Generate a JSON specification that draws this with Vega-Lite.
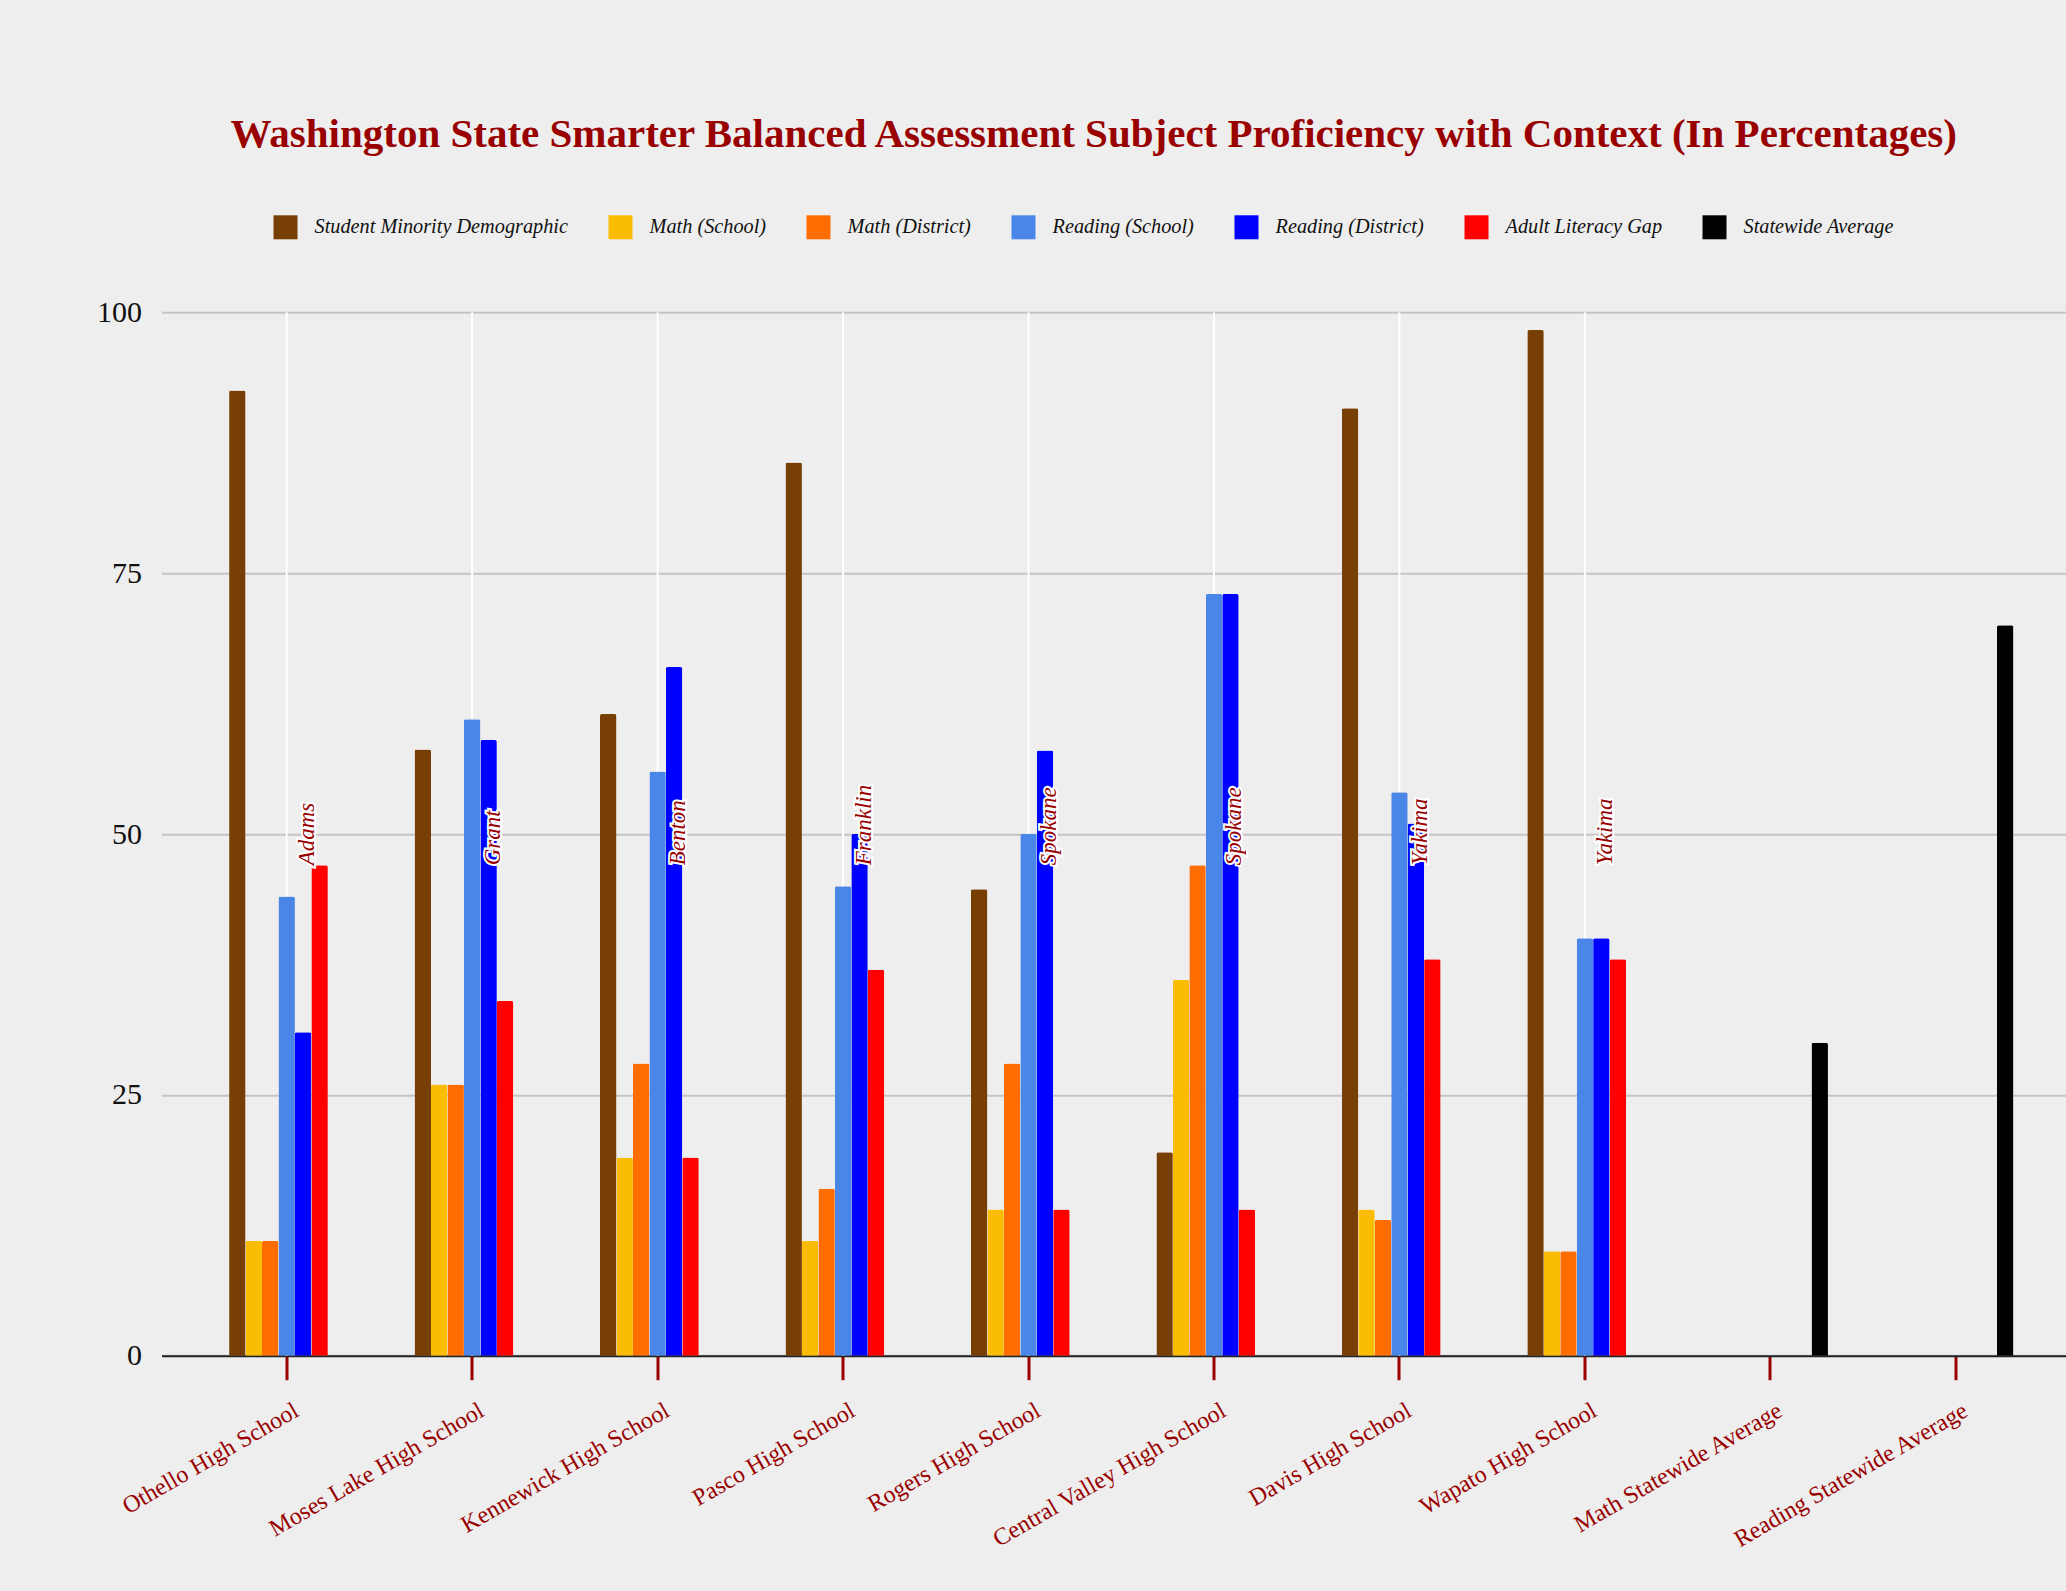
{
  "$schema": "https://vega.github.io/schema/vega-lite/v6.json",
  "autosize": {"type": "none"},
  "width": 1904.5,
  "height": 1043.4,
  "padding": {"left": 161.5, "top": 312.3, "right": 0, "bottom": 235.3},
  "background": "#eeeeee",
  "title": {
    "text": "Washington State Smarter Balanced Assessment Subject Proficiency with Context (In Percentages)",
    "font": "Liberation Serif",
    "fontSize": 41,
    "fontWeight": "bold",
    "color": "#990000",
    "anchor": "middle",
    "frame": "group",
    "dx": -20,
    "offset": 59
  },
  "datasets": {
    "bars": [
      {"school": "Othello High School", "series": "Student Minority Demographic", "value": 92.5},
      {"school": "Othello High School", "series": "Math (School)", "value": 11},
      {"school": "Othello High School", "series": "Math (District)", "value": 11},
      {"school": "Othello High School", "series": "Reading (School)", "value": 44},
      {"school": "Othello High School", "series": "Reading (District)", "value": 31},
      {"school": "Othello High School", "series": "Adult Literacy Gap", "value": 47},
      {"school": "Moses Lake High School", "series": "Student Minority Demographic", "value": 58.1},
      {"school": "Moses Lake High School", "series": "Math (School)", "value": 26},
      {"school": "Moses Lake High School", "series": "Math (District)", "value": 26},
      {"school": "Moses Lake High School", "series": "Reading (School)", "value": 61},
      {"school": "Moses Lake High School", "series": "Reading (District)", "value": 59},
      {"school": "Moses Lake High School", "series": "Adult Literacy Gap", "value": 34},
      {"school": "Kennewick High School", "series": "Student Minority Demographic", "value": 61.5},
      {"school": "Kennewick High School", "series": "Math (School)", "value": 19},
      {"school": "Kennewick High School", "series": "Math (District)", "value": 28},
      {"school": "Kennewick High School", "series": "Reading (School)", "value": 56},
      {"school": "Kennewick High School", "series": "Reading (District)", "value": 66},
      {"school": "Kennewick High School", "series": "Adult Literacy Gap", "value": 19},
      {"school": "Pasco High School", "series": "Student Minority Demographic", "value": 85.6},
      {"school": "Pasco High School", "series": "Math (School)", "value": 11},
      {"school": "Pasco High School", "series": "Math (District)", "value": 16},
      {"school": "Pasco High School", "series": "Reading (School)", "value": 45},
      {"school": "Pasco High School", "series": "Reading (District)", "value": 50},
      {"school": "Pasco High School", "series": "Adult Literacy Gap", "value": 37},
      {"school": "Rogers High School", "series": "Student Minority Demographic", "value": 44.7},
      {"school": "Rogers High School", "series": "Math (School)", "value": 14},
      {"school": "Rogers High School", "series": "Math (District)", "value": 28},
      {"school": "Rogers High School", "series": "Reading (School)", "value": 50},
      {"school": "Rogers High School", "series": "Reading (District)", "value": 58},
      {"school": "Rogers High School", "series": "Adult Literacy Gap", "value": 14},
      {"school": "Central Valley High School", "series": "Student Minority Demographic", "value": 19.5},
      {"school": "Central Valley High School", "series": "Math (School)", "value": 36},
      {"school": "Central Valley High School", "series": "Math (District)", "value": 47},
      {"school": "Central Valley High School", "series": "Reading (School)", "value": 73},
      {"school": "Central Valley High School", "series": "Reading (District)", "value": 73},
      {"school": "Central Valley High School", "series": "Adult Literacy Gap", "value": 14},
      {"school": "Davis High School", "series": "Student Minority Demographic", "value": 90.8},
      {"school": "Davis High School", "series": "Math (School)", "value": 14},
      {"school": "Davis High School", "series": "Math (District)", "value": 13},
      {"school": "Davis High School", "series": "Reading (School)", "value": 54},
      {"school": "Davis High School", "series": "Reading (District)", "value": 51},
      {"school": "Davis High School", "series": "Adult Literacy Gap", "value": 38},
      {"school": "Wapato High School", "series": "Student Minority Demographic", "value": 98.3},
      {"school": "Wapato High School", "series": "Math (School)", "value": 10},
      {"school": "Wapato High School", "series": "Math (District)", "value": 10},
      {"school": "Wapato High School", "series": "Reading (School)", "value": 40},
      {"school": "Wapato High School", "series": "Reading (District)", "value": 40},
      {"school": "Wapato High School", "series": "Adult Literacy Gap", "value": 38},
      {"school": "Math Statewide Average", "series": "Statewide Average", "value": 30},
      {"school": "Reading Statewide Average", "series": "Statewide Average", "value": 70}
    ],
    "notes": [
      {"school": "Othello High School", "county": "Adams", "series": "Reading (District)"},
      {"school": "Moses Lake High School", "county": "Grant", "series": "Reading (District)"},
      {"school": "Kennewick High School", "county": "Benton", "series": "Reading (District)"},
      {"school": "Pasco High School", "county": "Franklin", "series": "Reading (District)"},
      {"school": "Rogers High School", "county": "Spokane", "series": "Reading (District)"},
      {"school": "Central Valley High School", "county": "Spokane", "series": "Reading (District)"},
      {"school": "Davis High School", "county": "Yakima", "series": "Reading (District)"},
      {"school": "Wapato High School", "county": "Yakima", "series": "Reading (District)"}
    ]
  },
  "encoding": {
    "x": {
      "field": "school",
      "type": "nominal",
      "sort": null,
      "scale": {
        "domain": ["Othello High School", "Moses Lake High School", "Kennewick High School", "Pasco High School", "Rogers High School", "Central Valley High School", "Davis High School", "Wapato High School", "Math Statewide Average", "Reading Statewide Average"],
        "paddingInner": 0.3788,
        "paddingOuter": 0.324,
        "align": 0.5624
      },
      "axis": {
        "title": null,
        "labelAngle": -30,
        "labelAlign": "right",
        "labelBaseline": "middle",
        "labelFont": "Liberation Serif",
        "labelFontSize": 24,
        "labelColor": "#990000",
        "labelOffset": 10,
        "labelPadding": 29,
        "labelLimit": 0,
        "tickColor": "#990000",
        "tickSize": 24,
        "tickWidth": 3,
        "domainColor": "#222222",
        "domainWidth": 2,
        "grid": false,
        "labelOverlap": false
      }
    }
  },
  "layer": [
    {
      "data": {"name": "notes"},
      "mark": {"type": "rule", "color": "#ffffff", "strokeWidth": 2},
      "encoding": {
        "y": {"datum": 0, "type": "quantitative"},
        "y2": {"datum": 100}
      }
    },
    {
      "data": {"name": "bars"},
      "mark": {"type": "bar", "cornerRadiusTopLeft": 2, "cornerRadiusTopRight": 2},
      "encoding": {
        "xOffset": {
          "field": "series",
          "type": "nominal",
          "sort": null,
          "scale": {
            "domain": ["Student Minority Demographic", "Math (School)", "Math (District)", "Reading (School)", "Reading (District)", "Adult Literacy Gap", "Statewide Average"],
            "paddingInner": 0,
            "paddingOuter": 0
          }
        },
        "y": {
          "field": "value",
          "type": "quantitative",
          "scale": {"domain": [0, 100], "nice": false},
          "axis": {
            "title": null,
            "values": [0, 25, 50, 75, 100],
            "grid": true,
            "gridColor": "#c4c4c4",
            "gridWidth": 2,
            "domain": false,
            "ticks": false,
            "labelFont": "Liberation Serif",
            "labelFontSize": 30,
            "labelColor": "#111111",
            "labelPadding": 20
          }
        },
        "color": {
          "field": "series",
          "type": "nominal",
          "sort": null,
          "scale": {
            "domain": ["Student Minority Demographic", "Math (School)", "Math (District)", "Reading (School)", "Reading (District)", "Adult Literacy Gap", "Statewide Average"],
            "range": ["#783f04", "#fbbc04", "#ff6d01", "#4a86e8", "#0000ff", "#ff0000", "#000000"]
          },
          "legend": {
            "title": null,
            "orient": "none",
            "direction": "horizontal",
            "legendX": 112,
            "legendY": -97,
            "symbolType": "square",
            "symbolSize": 576,
            "symbolStrokeWidth": 0,
            "symbolOpacity": 1,
            "labelFont": "Liberation Serif",
            "labelFontStyle": "italic",
            "labelFontSize": 20.3,
            "labelColor": "#111111",
            "labelOffset": 17,
            "columnPadding": 40,
            "padding": 0,
            "labelLimit": 400
          }
        }
      }
    },
    {
      "data": {"name": "notes"},
      "mark": {"type": "text", "angle": 270, "align": "left", "baseline": "middle", "dy": 4, "font": "Liberation Serif", "fontStyle": "italic", "fontSize": 23, "stroke": "#ffffff", "strokeWidth": 4, "fill": "#ffffff"},
      "encoding": {
        "xOffset": {"field": "series", "type": "nominal"},
        "y": {"datum": 47, "type": "quantitative"},
        "text": {"field": "county"}
      }
    },
    {
      "data": {"name": "notes"},
      "mark": {"type": "text", "angle": 270, "align": "left", "baseline": "middle", "dy": 4, "font": "Liberation Serif", "fontStyle": "italic", "fontSize": 23, "fill": "#990000"},
      "encoding": {
        "xOffset": {"field": "series", "type": "nominal"},
        "y": {"datum": 47, "type": "quantitative"},
        "text": {"field": "county"}
      }
    }
  ],
  "config": {
    "view": {"stroke": null},
    "axis": {"labelFont": "Liberation Serif"}
  }
}
